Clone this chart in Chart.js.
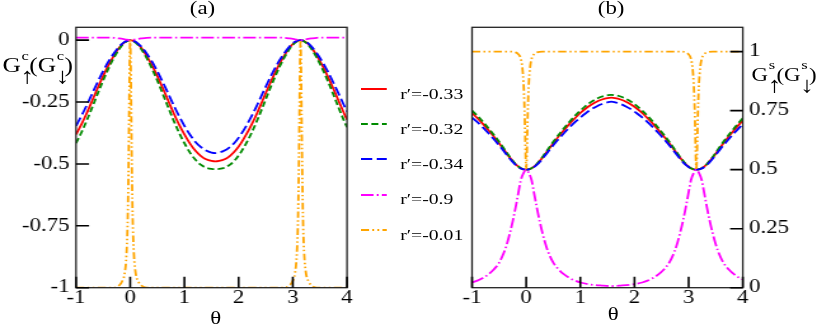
<!DOCTYPE html>
<html>
<head>
<meta charset="utf-8">
<script src="https://cdn.jsdelivr.net/npm/chart.js@4"></script>
<style>
html, body { margin: 0; padding: 0; background: #fff; overflow: hidden; }
/* the original figure is stretched sideways, so the whole stage is drawn narrow and scaled */
#stage { position: absolute; left: 0; top: 0; width: 643px; height: 327px;
         transform: scaleX(1.2706); transform-origin: 0 0;
         font-family: 'Liberation Serif', 'Times New Roman', serif; color: #000; }
canvas { position: absolute; left: 0; top: 0; width: 643px; height: 327px; }
.lbl { position: absolute; white-space: nowrap; line-height: 1; }
.ptitle { font-size: 18px; transform: translate(-50%, -50%); }
.ytitle { position: absolute; white-space: nowrap; line-height: 1; }
.st { display: inline-block; position: relative; width: 6.6px; height: 0; }
.st .sup { position: absolute; left: 0.5px; top: -22.9px; font-size: 13px; line-height: 1; }
.st .arr { position: absolute; left: -0.5px; top: -7px; font-size: 22px; line-height: 1; }
.leg { position: absolute; font-size: 15.5px; line-height: 15px; white-space: nowrap; }
</style>
</head>
<body>
<div id="stage">
  <canvas id="chart-a" width="643" height="327"></canvas>
  <canvas id="chart-b" width="643" height="327"></canvas>

  <div class="lbl ptitle" style="left:159.4px; top:7.7px;">(a)</div>
  <div class="lbl ptitle" style="left:481px; top:7.7px;">(b)</div>
  <div class="lbl ptitle" style="left:169.8px; top:318px;">θ</div>
  <div class="lbl ptitle" style="left:482.7px; top:314px;">θ</div>

  <div class="ytitle" style="left:2px; top:55px; font-size:20px;">G<span class="st"><span class="sup">c</span><span class="arr">↑</span></span>(G<span class="st"><span class="sup">c</span><span class="arr">↓</span></span>)</div>
  <div class="ytitle" style="left:591.5px; top:66px; font-size:18px;">G<span class="st"><span class="sup">s</span><span class="arr">↑</span></span>(G<span class="st"><span class="sup">s</span><span class="arr">↓</span></span>)</div>

  <div id="legend"></div>
</div>

<script>
// Series names and styles (same order in both panels)
const SERIES_NAMES = ['r′=-0.33', 'r′=-0.32', 'r′=-0.34', 'r′=-0.9', 'r′=-0.01'];
const COLORS = ['#ff0000', '#008b00', '#0000ff', '#ff00ff', '#ffa500'];
const DASHES = [[], [5.5, 2.8], [9, 3.5], [10, 2.5, 1.5, 2.5], [6.5, 2.5, 1.5, 2.5, 1.5, 2.5]];

// Tick labels
const X_TICKS = ['-1', '0', '1', '2', '3', '4'];
const Y_TICKS_A = ['-1', '-0.75', '-0.5', '-0.25', '0'];
const Y_TICKS_B = ['0', '0.25', '0.5', '0.75', '1'];

// theta grid for the smooth curves
const THETA_A = [-1.0, -0.9, -0.8, -0.7, -0.6, -0.5, -0.4, -0.3, -0.2, -0.1,
  0, 0.1, 0.2, 0.3, 0.4, 0.5, 0.6, 0.7, 0.8, 0.9, 1.0, 1.1, 1.2, 1.3, 1.4, 1.5,
  1.571,
  1.642, 1.742, 1.842, 1.942, 2.042, 2.142, 2.242, 2.342, 2.442, 2.542, 2.642, 2.742, 2.842, 2.942, 3.042,
  3.142,
  3.242, 3.342, 3.442, 3.542, 3.642, 3.742, 3.842, 3.942,
  4.0];

// Panel (a): G^c
const RED_A = [-0.381, -0.340, -0.294, -0.244, -0.193, -0.145, -0.101, -0.062, -0.030, -0.008,
  0, -0.008, -0.030, -0.062, -0.101, -0.145, -0.193, -0.244, -0.294, -0.340, -0.381, -0.417, -0.446, -0.467, -0.481, -0.488,
  -0.490,
  -0.488, -0.481, -0.467, -0.446, -0.417, -0.381, -0.340, -0.294, -0.244, -0.193, -0.145, -0.101, -0.062, -0.030, -0.008,
  0,
  -0.008, -0.030, -0.062, -0.101, -0.145, -0.193, -0.244, -0.294,
  -0.321];
const GREEN_A = [-0.416, -0.373, -0.324, -0.271, -0.216, -0.163, -0.114, -0.071, -0.035, -0.010,
  0, -0.010, -0.035, -0.071, -0.114, -0.163, -0.216, -0.271, -0.324, -0.373, -0.416, -0.453, -0.482, -0.503, -0.515, -0.520,
  -0.521,
  -0.520, -0.515, -0.503, -0.482, -0.453, -0.416, -0.373, -0.324, -0.271, -0.216, -0.163, -0.114, -0.071, -0.035, -0.010,
  0,
  -0.010, -0.035, -0.071, -0.114, -0.163, -0.216, -0.271, -0.324,
  -0.352];
const BLUE_A = [-0.346, -0.306, -0.262, -0.215, -0.169, -0.125, -0.086, -0.053, -0.025, -0.006,
  0, -0.006, -0.025, -0.053, -0.086, -0.125, -0.169, -0.215, -0.262, -0.306, -0.346, -0.381, -0.410, -0.431, -0.446, -0.454,
  -0.456,
  -0.454, -0.446, -0.431, -0.410, -0.381, -0.346, -0.306, -0.262, -0.215, -0.169, -0.125, -0.086, -0.053, -0.025, -0.006,
  0,
  -0.006, -0.025, -0.053, -0.086, -0.125, -0.169, -0.215, -0.262,
  -0.288];

const THETA_MAG_A = [-1, -0.45, -0.3, -0.2, -0.1, 0, 0.1, 0.2, 0.3, 0.45,
  2.692, 2.842, 2.942, 3.042, 3.142, 3.242, 3.342, 3.442, 3.592, 4.0];
const MAGENTA_A = [0.0105, 0.0105, 0.0095, 0.0068, 0.0035, 0, 0.0035, 0.0068, 0.0095, 0.0105,
  0.0105, 0.0095, 0.0068, 0.0035, 0, 0.0035, 0.0068, 0.0095, 0.0105, 0.0105];

const THETA_ORANGE = [-1, -0.3, -0.2, -0.15, -0.1, -0.07, -0.05, -0.04, -0.03, -0.02, -0.01,
  0, 0.01, 0.02, 0.03, 0.04, 0.05, 0.07, 0.1, 0.15, 0.2, 0.3,
  2.842, 2.942, 2.992, 3.042, 3.072, 3.092, 3.102, 3.112, 3.122, 3.132,
  3.142, 3.152, 3.162, 3.172, 3.182, 3.192, 3.212, 3.242, 3.292, 3.342, 3.442, 4.0];
const ORANGE_A = [-1, -1.0, -0.99, -0.975, -0.94, -0.87, -0.76, -0.65, -0.5, -0.3, -0.1,
  0, -0.1, -0.3, -0.5, -0.65, -0.76, -0.87, -0.94, -0.975, -0.99, -1.0,
  -1.0, -0.99, -0.975, -0.94, -0.87, -0.76, -0.65, -0.5, -0.3, -0.1,
  0, -0.1, -0.3, -0.5, -0.65, -0.76, -0.87, -0.94, -0.975, -0.99, -1.0, -1];

// Panel (b): G^s
const RED_B = [0.740, 0.718, 0.694, 0.668, 0.641, 0.612, 0.581, 0.550, 0.524, 0.506,
  0.500, 0.506, 0.524, 0.550, 0.581, 0.612, 0.641, 0.668, 0.694, 0.718, 0.740, 0.759, 0.775, 0.788, 0.797, 0.803,
  0.805,
  0.803, 0.797, 0.788, 0.775, 0.759, 0.740, 0.718, 0.694, 0.668, 0.641, 0.612, 0.581, 0.550, 0.524, 0.506,
  0.500,
  0.506, 0.524, 0.550, 0.581, 0.612, 0.641, 0.668, 0.694,
  0.708];
const GREEN_B = [0.750, 0.728, 0.703, 0.676, 0.648, 0.618, 0.586, 0.553, 0.525, 0.506,
  0.500, 0.506, 0.525, 0.553, 0.586, 0.618, 0.648, 0.676, 0.703, 0.728, 0.750, 0.770, 0.787, 0.800, 0.810, 0.815,
  0.817,
  0.815, 0.810, 0.800, 0.787, 0.770, 0.750, 0.728, 0.703, 0.676, 0.648, 0.618, 0.586, 0.553, 0.525, 0.506,
  0.500,
  0.506, 0.525, 0.553, 0.586, 0.618, 0.648, 0.676, 0.703,
  0.718];
const BLUE_B = [0.721, 0.701, 0.679, 0.655, 0.630, 0.603, 0.575, 0.546, 0.521, 0.505,
  0.500, 0.505, 0.521, 0.546, 0.575, 0.603, 0.630, 0.655, 0.679, 0.701, 0.721, 0.739, 0.755, 0.768, 0.778, 0.785,
  0.788,
  0.785, 0.778, 0.768, 0.755, 0.739, 0.721, 0.701, 0.679, 0.655, 0.630, 0.603, 0.575, 0.546, 0.521, 0.505,
  0.500,
  0.505, 0.521, 0.546, 0.575, 0.603, 0.630, 0.655, 0.679,
  0.692];

const THETA_MAG_B = [-1, -0.9, -0.8, -0.7, -0.6, -0.5, -0.4, -0.35, -0.3, -0.25, -0.2, -0.15, -0.1, -0.05,
  0, 0.05, 0.1, 0.15, 0.2, 0.25, 0.3, 0.35, 0.4, 0.5, 0.6, 0.7, 0.8, 0.9, 1.0, 1.2, 1.4,
  1.571, 1.742, 1.942, 2.142, 2.242, 2.342, 2.442, 2.542, 2.642, 2.742, 2.792, 2.842, 2.892, 2.942, 2.992, 3.042, 3.092,
  3.142, 3.192, 3.242, 3.292, 3.342, 3.392, 3.442, 3.492, 3.542, 3.642, 3.742, 3.842, 3.942, 4.0];
const MAGENTA_B = [0.022, 0.030, 0.041, 0.056, 0.077, 0.106, 0.155, 0.190, 0.232, 0.280, 0.335, 0.395, 0.455, 0.485,
  0.500, 0.485, 0.455, 0.395, 0.335, 0.280, 0.232, 0.190, 0.155, 0.106, 0.077, 0.056, 0.041, 0.030, 0.022, 0.013, 0.009,
  0.007, 0.009, 0.013, 0.022, 0.030, 0.041, 0.056, 0.077, 0.106, 0.155, 0.190, 0.232, 0.280, 0.335, 0.395, 0.455, 0.485,
  0.500, 0.485, 0.455, 0.395, 0.335, 0.280, 0.232, 0.190, 0.155, 0.106, 0.077, 0.056, 0.041, 0.035];

const ORANGE_B = [1, 1.0, 0.997, 0.99, 0.97, 0.93, 0.87, 0.82, 0.75, 0.65, 0.55,
  0.5, 0.55, 0.65, 0.75, 0.82, 0.87, 0.93, 0.97, 0.99, 0.997, 1.0,
  1.0, 0.997, 0.99, 0.97, 0.93, 0.87, 0.82, 0.75, 0.65, 0.55,
  0.5, 0.55, 0.65, 0.75, 0.82, 0.87, 0.93, 0.97, 0.99, 0.997, 1.0, 1];

// Plot area (stage coordinates, before the sideways stretch)
const STAGE_W = 643;
const PLOT_TOP = 27.3;
const X_AXIS_H = 39.3;

Chart.defaults.font.family = "'Liberation Serif', 'Times New Roman', serif";
Chart.defaults.font.size = 18;
Chart.defaults.color = '#000';

function pts(xs, ys) {
  return xs.map((x, i) => ({ x: x, y: ys[i] }));
}

// frame round the plot and inward tick marks
const framePlugin = {
  id: 'frame',
  afterDraw(chart, args, opts) {
    const { ctx, chartArea: a, scales } = chart;
    ctx.save();
    ctx.strokeStyle = '#222';
    ctx.lineWidth = 1.3;
    ctx.strokeRect(a.left, a.top, a.right - a.left, a.bottom - a.top);
    ctx.strokeStyle = '#000';
    ctx.lineWidth = 1.6;
    ctx.beginPath();
    scales.x.ticks.forEach(t => {
      const px = scales.x.getPixelForValue(t.value);
      ctx.moveTo(px, a.bottom);
      ctx.lineTo(px, a.bottom - 11);
    });
    scales.y.ticks.forEach(t => {
      const py = scales.y.getPixelForValue(t.value);
      if (opts.side === 'left') {
        ctx.moveTo(a.left, py);
        ctx.lineTo(a.left + 10.3, py);
      } else {
        ctx.moveTo(a.right, py);
        ctx.lineTo(a.right - 10, py);
      }
    });
    ctx.stroke();
    ctx.restore();
  }
};

function makeDatasets(series) {
  return series.map((s, i) => ({
    label: SERIES_NAMES[i],
    data: pts(s[0], s[1]),
    borderColor: COLORS[i],
    borderDash: DASHES[i],
    borderWidth: 1.8,
    pointRadius: 0,
    fill: false,
    cubicInterpolationMode: 'monotone',
    order: 4 - i // later sets on top, like the original
  }));
}

function makeOptions(cfg) {
  return {
    responsive: false,
    animation: false,
    events: [],
    layout: { padding: cfg.padding },
    plugins: {
      legend: { display: false },
      tooltip: { enabled: false },
      frame: { side: cfg.side }
    },
    scales: {
      x: {
        type: 'linear', min: -1, max: 4,
        grid: { display: false, drawTicks: false, tickLength: 0 },
        border: { display: false },
        afterFit: s => { s.height = X_AXIS_H; },
        ticks: { stepSize: 1, padding: 0, maxRotation: 0, autoSkip: false,
                 callback: (v, i) => X_TICKS[i] }
      },
      y: {
        type: 'linear', position: cfg.side, min: cfg.min, max: cfg.max,
        grid: { display: false, drawTicks: false, tickLength: 0 },
        border: { display: false },
        afterFit: s => { s.width = cfg.axisWidth; },
        ticks: { stepSize: 0.25, includeBounds: false, padding: 5, autoSkip: false,
                 callback: (v, i) => cfg.labels[i] }
      }
    }
  };
}

// Panel (a)
new Chart(document.getElementById('chart-a'), {
  type: 'line',
  data: {
    datasets: makeDatasets([
      [THETA_A, RED_A], [THETA_A, GREEN_A], [THETA_A, BLUE_A],
      [THETA_MAG_A, MAGENTA_A], [THETA_ORANGE, ORANGE_A]
    ])
  },
  plugins: [framePlugin],
  options: makeOptions({
    side: 'left', min: -1, max: 0.052, labels: Y_TICKS_A, axisWidth: 59.8,
    padding: { top: PLOT_TOP, left: 0, right: STAGE_W - 273.1, bottom: 0 }
  })
});

// Panel (b)
new Chart(document.getElementById('chart-b'), {
  type: 'line',
  data: {
    datasets: makeDatasets([
      [THETA_A, RED_B], [THETA_A, GREEN_B], [THETA_A, BLUE_B],
      [THETA_MAG_B, MAGENTA_B], [THETA_ORANGE, ORANGE_B]
    ])
  },
  plugins: [framePlugin],
  options: makeOptions({
    side: 'right', min: 0, max: 1.103, labels: Y_TICKS_B, axisWidth: STAGE_W - 584.6,
    padding: { top: PLOT_TOP, left: 371.5, right: 0, bottom: 0 }
  })
});

// Legend between the panels
const legend = document.getElementById('legend');
SERIES_NAMES.forEach((name, i) => {
  const y = 89 + i * 35.2;
  const dash = DASHES[i].length ? DASHES[i].join(' ') : 'none';
  const svg = document.createElementNS('http://www.w3.org/2000/svg', 'svg');
  svg.setAttribute('width', '21');
  svg.setAttribute('height', '4');
  svg.style.position = 'absolute';
  svg.style.left = '284.3px';
  svg.style.top = (y - 2) + 'px';
  svg.innerHTML = '<line x1="0" y1="2" x2="20.4" y2="2" stroke="' + COLORS[i] +
    '" stroke-width="1.8" stroke-dasharray="' + dash + '"/>';
  legend.appendChild(svg);
  const txt = document.createElement('div');
  txt.className = 'leg';
  txt.style.left = '315px';
  txt.style.top = (y - 3.3) + 'px';
  txt.textContent = name;
  legend.appendChild(txt);
});
</script>
</body>
</html>
